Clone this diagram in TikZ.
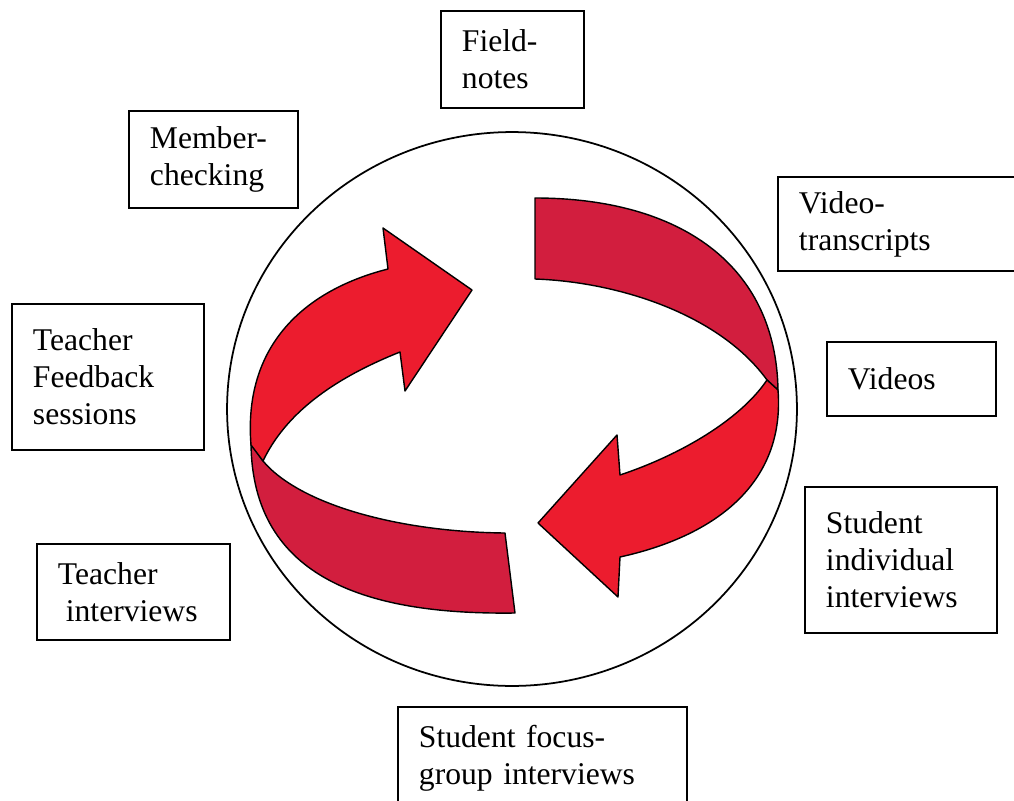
\documentclass[tikz,border=0pt]{standalone}
\usepackage{fontspec}
\setmainfont{Liberation Serif}
\definecolor{frontred}{RGB}{236,28,46}
\definecolor{backred}{RGB}{210,30,62}
\tikzset{
  src/.style={draw, line width=1.1pt, anchor=north west, align=left,
    inner xsep=0.42cm, inner ysep=0pt, font=\fontsize{18}{21}\selectfont},
  band/.style={draw, line width=0.8pt, line join=round},
}
\begin{document}
\begin{tikzpicture}[x=0.02cm, y=-0.02cm]
  \useasboundingbox (0,0) rectangle (1014,801);
  % circle round the cycle
  \draw[line width=1pt] (512,409) ellipse [x radius=5.7cm, y radius=5.54cm];
  % left arrow: back side first, then front with head
  \filldraw[band, fill=backred] (251,443) .. controls (252,580) and (370,615) .. (515,613)
    -- (505,533) .. controls (400,532) and (300,505) .. (263,461) -- cycle;
  \filldraw[band, fill=frontred] (251,445) .. controls (243,345) and (305,290) .. (388,269)
    -- (383,228) -- (472,290) -- (405,391)
    -- (400,352) .. controls (330,380) and (285,415) .. (263,461) -- cycle;
  % right arrow
  \filldraw[band, fill=backred] (535,198) .. controls (680,198) and (776,265) .. (778,390)
    -- (767,380) .. controls (720,315) and (620,282) .. (535,279) -- cycle;
  \filldraw[band, fill=frontred] (778,390) .. controls (785,480) and (720,535) .. (620,557)
    -- (618,597) -- (538,523) -- (617,435)
    -- (620,475) .. controls (680,455) and (740,420) .. (767,380) -- cycle;
  % data sources
  \node[src, text width=2.02cm, minimum height=1.94cm] (fieldnotes) at (440,10) {Field-\\notes};
  \node[src, text width=2.54cm, minimum height=1.94cm] (member) at (128,110) {Member-\\checking};
  \node[src, text width=4.22cm, minimum height=1.88cm] (vidtrans) at (777,176) {Video-\\transcripts};
  \node[src, text width=2.54cm, minimum height=1.48cm] (videos) at (826,341) {Videos};
  \node[src, text width=3.0cm, minimum height=2.92cm] (feedback) at (11,303) {Teacher\\Feedback\\sessions};
  \node[src, text width=3.02cm, minimum height=1.92cm] (tinterv) at (36,543) {Teacher\\\hspace*{4.5pt}interviews};
  \node[src, text width=3.0cm, minimum height=2.92cm] (sinterv) at (804,486) {Student\\individual\\interviews};
  \node[src, text width=4.94cm, minimum height=2.04cm] (focus) at (397,706) {Student focus-\\group interviews};
\end{tikzpicture}
\end{document}
